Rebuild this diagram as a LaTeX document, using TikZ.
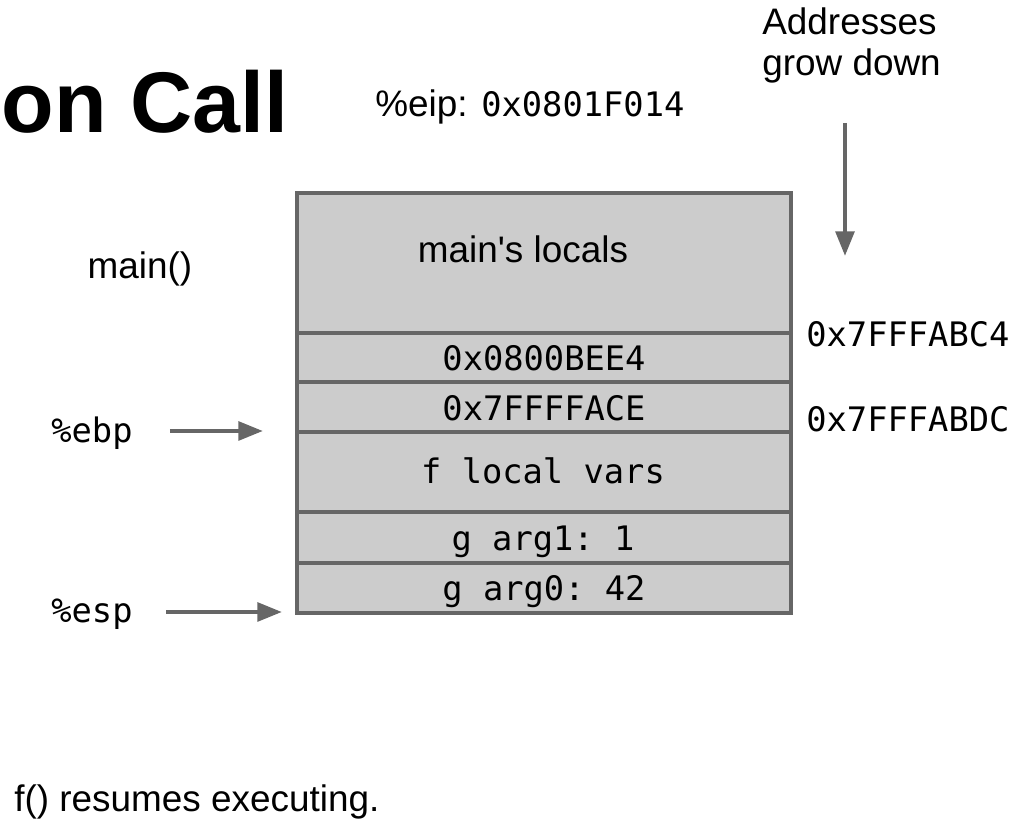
\documentclass[tikz,border=0pt]{standalone}
\usepackage{fontspec}
\setmainfont{Liberation Sans}
\setmonofont{DejaVu Sans Mono}
\usetikzlibrary{arrows.meta}
\definecolor{cellgray}{HTML}{CCCCCC}
\definecolor{edgegray}{HTML}{666666}
\newcommand{\sansbig}{\fontsize{21pt}{24pt}\selectfont}
\newcommand{\monobig}{\fontsize{19.2pt}{23pt}\selectfont\ttfamily}
\tikzset{
	cell/.style={fill=cellgray, draw=edgegray, line width=2.2pt},
	ptr/.style={draw=edgegray, line width=2.5pt, -{Triangle[length=14pt,width=10.5pt]}},
	lbl/.style={inner sep=0pt, font=\sansbig},
	mono/.style={inner sep=0pt, font=\monobig}
}
\begin{document}
\begin{tikzpicture}[x=0.02cm, y=-0.02cm]
		%%%%% START %%%%%
		\useasboundingbox (0, 0) rectangle (1019, 820);
		
		\node[inner sep=0pt, anchor=base east, font=\fontsize{49pt}{56pt}\selectfont\bfseries] (title) at (289, 133) {on Call};
		\node[lbl, anchor=base west] (eip) at (375, 117) {\%eip: {\monobig 0x0801F014}};
		\node[lbl, anchor=north west, align=left, font=\fontsize{21pt}{23.8pt}\selectfont] (grow) at (762, 7) {Addresses\\grow down};
		
		% stack frame cells
		\draw[cell] (297, 193) rectangle (791, 333);
		\draw[cell] (297, 333) rectangle (791, 382);
		\draw[cell] (297, 382) rectangle (791, 432);
		\draw[cell] (297, 432) rectangle (791, 512);
		\draw[cell] (297, 512) rectangle (791, 563);
		\draw[cell] (297, 563) rectangle (791, 613);
		
		\node[lbl, anchor=base] (mainloc) at (523, 263) {main\textquotesingle s locals};
		\node[mono, anchor=base] (retaddr) at (544, 371) {0x0800BEE4};
		\node[mono, anchor=base] (oldebp) at (544, 421) {0x7FFFFACE};
		\node[mono, anchor=base] (flocal) at (543, 484) {f local vars};
		\node[mono, anchor=base] (argone) at (543, 551) {g arg1: 1};
		\node[mono, anchor=base] (argzero) at (544, 601) {g arg0: 42};
		
		\node[mono, anchor=base west] (addrA) at (806, 347) {0x7FFFABC4};
		\node[mono, anchor=base west] (addrB) at (806, 432) {0x7FFFABDC};
		
		\node[lbl, anchor=base] (mainfn) at (140, 279) {main()};
		\node[mono, anchor=base west] (ebp) at (51, 443) {\%ebp};
		\node[mono, anchor=base west] (esp) at (51, 623) {\%esp};
		
		\coordinate (ebptip) at (263, 431);
		\coordinate (esptip) at (282, 612);
		\draw[ptr, shorten <=21pt] (ebp.east |- ebptip) -- (ebptip);
		\draw[ptr, shorten <=19pt] (esp.east |- esptip) -- (esptip);
		
		\coordinate (growtop) at (845, 123);
		\coordinate (growtip) at (845, 256);
		\draw[ptr] (growtop) -- (growtip);
		
		\node[lbl, anchor=base west] (resume) at (14, 812) {f() resumes executing.};
		%%%%% END %%%%%
	\end{tikzpicture}
\end{document}
